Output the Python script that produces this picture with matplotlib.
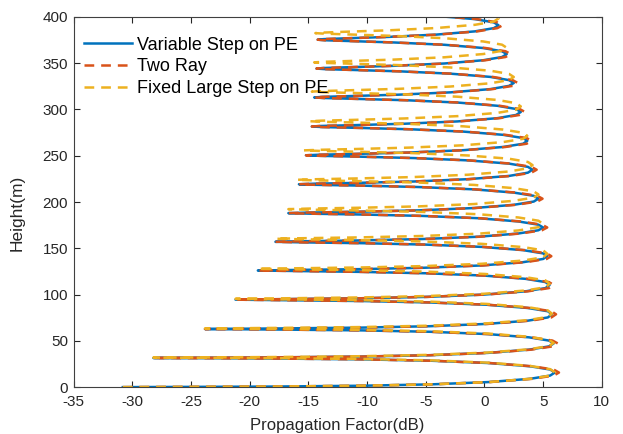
import matplotlib
matplotlib.use("Agg")
import matplotlib.pyplot as plt

plt.rcParams['font.family'] = ['Liberation Sans', 'DejaVu Sans']
plt.rcParams['lines.scale_dashes'] = False
plt.rcParams['axes.unicode_minus'] = False

# ---- data ----
variable_h = [
    0, 0.6, 1.5, 3.0, 5.5, 9.0, 12.5, 15.75, 19.0, 22.5, 26.0, 28.5, 30.0, 30.9,
    31.5, 32.1, 33.0, 34.5, 37.0, 40.5, 44.0, 47.2, 50.3, 53.8, 57.3, 59.8, 61.3, 62.2,
    62.8, 63.4, 64.3, 65.8, 68.3, 71.8, 75.3, 78.7, 82.0, 85.5, 89.0, 91.5, 93.0, 93.9,
    94.5, 95.1, 96.0, 97.5, 100.0, 103.5, 107.0, 110.3, 113.5, 117.0, 120.5, 123.0, 124.5, 125.4,
    126.0, 126.6, 127.5, 129.0, 131.5, 135.0, 138.5, 141.5, 144.5, 148.0, 151.5, 154.0, 155.5, 156.4,
    157.0, 157.6, 158.5, 160.0, 162.5, 166.0, 169.5, 172.5, 175.5, 179.0, 182.5, 185.0, 186.5, 187.4,
    188.0, 188.6, 189.5, 191.0, 193.5, 197.0, 200.5, 203.6, 206.7, 210.2, 213.7, 216.2, 217.7, 218.6,
    219.2, 219.8, 220.7, 222.2, 224.7, 228.2, 231.7, 234.9, 238.0, 241.5, 245.0, 247.5, 249.0, 249.9,
    250.5, 251.1, 252.0, 253.5, 256.0, 259.5, 263.0, 266.1, 269.1, 272.6, 276.1, 278.6, 280.1, 281.0,
    281.6, 282.2, 283.1, 284.6, 287.1, 290.6, 294.1, 297.3, 300.5, 304.0, 307.5, 310.0, 311.5, 312.4,
    313.0, 313.6, 314.5, 316.0, 318.5, 322.0, 325.5, 328.6, 331.7, 335.2, 338.7, 341.2, 342.7, 343.6,
    344.2, 344.8, 345.7, 347.2, 349.7, 353.2, 356.7, 359.8, 362.9, 366.4, 369.9, 372.4, 373.9, 374.8,
    375.4, 376.0, 376.9, 378.4, 380.9, 384.4, 387.9, 391.0, 394.1, 397.6, 401.1,
]
variable_pf = [
    -30.8, -18.2, -10.4, -4.5, 0.4, 3.9, 5.6, 6.0, 5.6, 3.9, 0.4, -4.5, -10.4, -18.0,
    -28.2, -18.1, -10.5, -4.6, 0.3, 3.8, 5.5, 5.9, 5.5, 3.8, 0.3, -4.6, -10.4, -17.4,
    -23.8, -17.6, -10.5, -4.7, 0.2, 3.7, 5.4, 5.75, 5.4, 3.7, 0.2, -4.7, -10.3, -16.8,
    -21.2, -16.9, -10.6, -4.9, 0.0, 3.5, 5.2, 5.55, 5.2, 3.5, 0.0, -4.9, -10.4, -16.0,
    -19.3, -16.2, -10.5, -5.1, -0.2, 3.3, 5.0, 5.35, 5.0, 3.3, -0.2, -5.0, -10.3, -15.4,
    -17.8, -15.5, -10.6, -5.3, -0.5, 2.9, 4.6, 5.0, 4.6, 2.9, -0.5, -5.3, -10.4, -14.8,
    -16.7, -15.0, -10.7, -5.6, -0.9, 2.5, 4.2, 4.6, 4.2, 2.5, -0.9, -5.6, -10.4, -14.4,
    -15.8, -14.5, -10.8, -6.0, -1.4, 2.1, 3.7, 4.1, 3.7, 2.1, -1.4, -6.0, -10.6, -14.0,
    -15.2, -14.1, -10.9, -6.4, -1.8, 1.6, 3.3, 3.65, 3.3, 1.6, -1.8, -6.3, -10.7, -13.8,
    -14.7, -13.9, -11.0, -6.8, -2.3, 1.1, 2.7, 3.1, 2.7, 1.1, -2.3, -6.7, -10.9, -13.7,
    -14.5, -13.8, -11.3, -7.3, -2.9, 0.5, 2.1, 2.5, 2.1, 0.5, -2.9, -7.2, -11.2, -13.6,
    -14.3, -13.7, -11.5, -7.7, -3.4, -0.1, 1.5, 1.9, 1.5, -0.1, -3.4, -7.7, -11.4, -13.6,
    -14.2, -13.7, -11.8, -8.2, -4.1, -0.8, 0.8, 1.2, 0.8, -0.8, -4.1,
]
tworay_pf = [
    -30.8, -18.2, -10.4, -4.5, 0.5, 4.1, 5.9, 6.35, 5.9, 4.1, 0.5, -4.5, -10.4, -18.0,
    -28.2, -18.1, -10.5, -4.6, 0.4, 4.0, 5.8, 6.25, 5.8, 4.0, 0.4, -4.6, -10.4, -17.4,
    -23.8, -17.6, -10.5, -4.7, 0.3, 3.9, 5.7, 6.1, 5.7, 3.9, 0.3, -4.7, -10.3, -16.8,
    -21.2, -16.9, -10.6, -4.9, 0.1, 3.7, 5.5, 5.9, 5.5, 3.7, 0.1, -4.9, -10.4, -16.0,
    -19.3, -16.2, -10.5, -5.1, -0.1, 3.5, 5.3, 5.7, 5.3, 3.5, -0.1, -5.0, -10.3, -15.4,
    -17.8, -15.5, -10.6, -5.3, -0.4, 3.1, 4.9, 5.35, 4.9, 3.1, -0.4, -5.3, -10.4, -14.8,
    -16.7, -15.0, -10.7, -5.6, -0.8, 2.7, 4.5, 4.95, 4.5, 2.7, -0.8, -5.6, -10.4, -14.4,
    -15.8, -14.5, -10.8, -6.0, -1.3, 2.3, 4.0, 4.45, 4.0, 2.3, -1.3, -6.0, -10.6, -14.0,
    -15.2, -14.1, -10.9, -6.4, -1.7, 1.8, 3.6, 4.0, 3.6, 1.8, -1.7, -6.3, -10.7, -13.8,
    -14.7, -13.9, -11.0, -6.8, -2.2, 1.3, 3.0, 3.45, 3.0, 1.3, -2.2, -6.7, -10.9, -13.7,
    -14.5, -13.8, -11.3, -7.3, -2.8, 0.7, 2.4, 2.85, 2.4, 0.7, -2.8, -7.2, -11.2, -13.6,
    -14.3, -13.7, -11.5, -7.7, -3.3, 0.1, 1.8, 2.25, 1.8, 0.1, -3.3, -7.7, -11.4, -13.6,
    -14.2, -13.7, -11.8, -8.2, -4.0, -0.6, 1.1, 1.55, 1.1, -0.6, -4.0,
]
fixed_h = [
    0, 0.6, 1.5, 3.0, 5.5, 9.0, 12.5, 16.0, 19.4, 22.9, 26.4, 28.9, 30.4, 31.3,
    31.9, 32.5, 33.4, 34.9, 37.4, 40.9, 44.4, 47.7, 50.9, 54.4, 57.9, 60.4, 61.9, 62.8,
    63.4, 64.0, 64.9, 66.4, 68.9, 72.4, 75.9, 79.4, 82.9, 86.4, 89.9, 92.4, 93.9, 94.8,
    95.4, 96.0, 96.9, 98.4, 100.9, 104.4, 107.9, 111.6, 115.3, 118.8, 122.3, 124.8, 126.3, 127.2,
    127.8, 128.4, 129.3, 130.8, 133.3, 136.8, 140.3, 144.1, 147.8, 151.3, 154.8, 157.3, 158.8, 159.7,
    160.3, 160.9, 161.8, 163.3, 165.8, 169.3, 172.8, 176.3, 179.8, 183.3, 186.8, 189.3, 190.8, 191.7,
    192.3, 192.9, 193.8, 195.3, 197.8, 201.3, 204.8, 208.2, 211.5, 215.0, 218.5, 221.0, 222.5, 223.4,
    224.0, 224.6, 225.5, 227.0, 229.5, 233.0, 236.5, 239.9, 243.3, 246.8, 250.3, 252.8, 254.3, 255.2,
    255.8, 256.4, 257.3, 258.8, 261.3, 264.8, 268.3, 271.6, 274.8, 278.3, 281.8, 284.3, 285.8, 286.7,
    287.3, 287.9, 288.8, 290.3, 292.8, 296.3, 299.8, 303.3, 306.8, 310.3, 313.8, 316.3, 317.8, 318.7,
    319.3, 319.9, 320.8, 322.3, 324.8, 328.3, 331.8, 335.1, 338.4, 341.9, 345.4, 347.9, 349.4, 350.3,
    350.9, 351.5, 352.4, 353.9, 356.4, 359.9, 363.4, 366.7, 370.0, 373.5, 377.0, 379.5, 381.0, 381.9,
    382.5, 383.1, 384.0, 385.5, 388.0, 391.5, 395.0, 398.3, 401.5, 405.0, 408.5,
]
fixed_pf = [
    -30.8, -18.2, -10.4, -4.5, 0.4, 3.9, 5.6, 6.0, 5.6, 3.9, 0.4, -4.5, -10.4, -18.0,
    -28.2, -18.1, -10.5, -4.6, 0.3, 3.8, 5.5, 5.9, 5.5, 3.8, 0.3, -4.6, -10.4, -17.4,
    -23.8, -17.6, -10.5, -4.7, 0.2, 3.7, 5.4, 5.75, 5.4, 3.7, 0.2, -4.7, -10.3, -16.8,
    -21.2, -16.9, -10.6, -4.9, 0.0, 3.5, 5.2, 5.55, 5.2, 3.5, 0.0, -4.9, -10.4, -16.0,
    -19.3, -16.2, -10.5, -5.1, -0.2, 3.3, 5.0, 5.35, 5.0, 3.3, -0.2, -5.0, -10.3, -15.4,
    -17.8, -15.5, -10.6, -5.3, -0.5, 2.9, 4.6, 5.0, 4.6, 2.9, -0.5, -5.3, -10.4, -14.8,
    -16.7, -15.0, -10.7, -5.6, -0.9, 2.5, 4.2, 4.6, 4.2, 2.5, -0.9, -5.6, -10.4, -14.4,
    -16.0, -14.5, -10.8, -6.0, -1.4, 2.1, 3.7, 4.1, 3.7, 2.1, -1.4, -6.0, -10.6, -14.0,
    -15.4, -14.1, -10.9, -6.4, -1.8, 1.6, 3.3, 3.65, 3.3, 1.6, -1.8, -6.3, -10.7, -13.8,
    -14.9, -13.9, -11.0, -6.8, -2.3, 1.1, 2.7, 3.1, 2.7, 1.1, -2.3, -6.7, -10.9, -13.7,
    -14.7, -13.8, -11.3, -7.3, -2.9, 0.5, 2.1, 2.5, 2.1, 0.5, -2.9, -7.2, -11.2, -13.6,
    -14.5, -13.7, -11.5, -7.7, -3.4, -0.1, 1.5, 1.9, 1.5, -0.1, -3.4, -7.7, -11.4, -13.6,
    -14.4, -13.7, -11.8, -8.2, -4.1, -0.8, 0.8, 1.2, 0.8, -0.8, -4.1,
]
series_labels = ["Variable Step on PE", "Two Ray", "Fixed Large Step on PE"]
x_ticks = [-35, -30, -25, -20, -15, -10, -5, 0, 5, 10]
y_ticks = [0, 50, 100, 150, 200, 250, 300, 350, 400]

# ---- figure ----
fig = plt.figure(figsize=(6.23, 4.34), dpi=100)
ax = fig.add_axes([0.118, 0.108, 0.848, 0.853])

ax.plot(variable_pf, variable_h, color='#0072BD', lw=1.8, label=series_labels[0])
ax.plot(tworay_pf, variable_h, color='#D95319', lw=1.8, dashes=(7, 5), label=series_labels[1])
ax.plot(fixed_pf, fixed_h, color='#EDB120', lw=1.8, dashes=(7, 5), label=series_labels[2])

ax.set_xlim(x_ticks[0], x_ticks[-1])
ax.set_ylim(y_ticks[0], y_ticks[-1])
ax.set_xticks(x_ticks)
ax.set_yticks(y_ticks)
ax.tick_params(direction='in', top=True, right=True, length=4, width=0.8,
               labelsize=11, colors='#262626')
ax.tick_params(axis='x', pad=6)
ax.tick_params(axis='y', pad=4)
for s in ax.spines.values():
    s.set_color('#404040')
    s.set_linewidth(0.8)

ax.set_xlabel('Propagation Factor(dB)', fontsize=12, color='#262626', labelpad=6)
ax.set_ylabel('Height(m)', fontsize=12.5, color='#262626')
ax.yaxis.set_label_coords(-0.092, 0.47)

ax.legend(loc='upper left', bbox_to_anchor=(0.02, 0.947), frameon=False,
          fontsize=13, handlelength=2.66, handletextpad=0.25, labelspacing=0.27,
          borderpad=0, borderaxespad=0)

fig.savefig('out.png', dpi=100)
